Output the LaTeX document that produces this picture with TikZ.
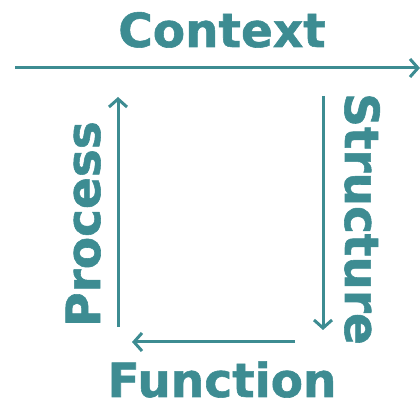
\documentclass[tikz,border=0pt]{standalone}
\usepackage{fontspec}
\setmainfont{DejaVu Sans}[BoldFont={DejaVu Sans Bold}, BoldFeatures={FakeBold=1.2}]
\usetikzlibrary{arrows.meta}
\definecolor{tealc}{RGB}{61,140,146}
\begin{document}
\begin{tikzpicture}[x=1pt, y=1pt,
  lbl/.style={text=tealc, font=\fontsize{47}{56}\selectfont\bfseries, inner sep=0, anchor=base},
  arr/.style={draw=tealc, line width=3pt, -{Straight Barb[length=8pt,width=18pt]}}]
\useasboundingbox (0,0) rectangle (420,403);
\node[lbl] (ctx) at (222,356){Context};
\node[lbl, rotate=-90] (str) at (345,184){Structure};
\node[lbl] (fun) at (222,6){Function};
\node[lbl, rotate=90] (pro) at (100,179){Process};
\coordinate (c0) at (15,335);
\coordinate (c1) at (420,335);
\coordinate (s0) at (323,307);
\coordinate (s1) at (323,73);
\coordinate (f0) at (295,61);
\coordinate (f1) at (132,61);
\coordinate (p0) at (118,76);
\coordinate (p1) at (118,306);
\draw[arr](c0) -- (c1);
\draw[arr](s0) -- (s1);
\draw[arr](f0) -- (f1);
\draw[arr](p0) -- (p1);
\end{tikzpicture}
\end{document}
